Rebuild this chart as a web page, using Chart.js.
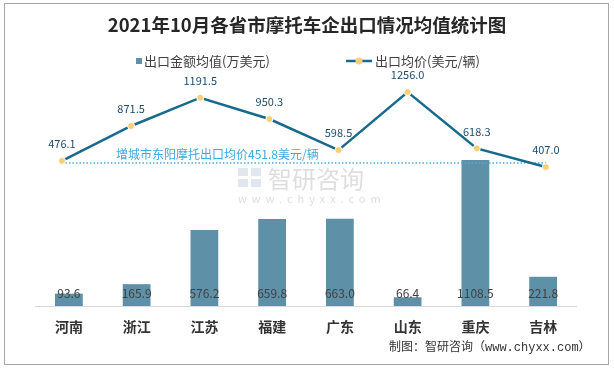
<!DOCTYPE html>
<html>
<head>
<meta charset="utf-8">
<script src="https://cdn.jsdelivr.net/npm/chart.js@4"></script>
<style>
  body { margin: 0; background: #fff; }
  canvas { display: block; }
</style>
</head>
<body>
<canvas id="chart" width="614" height="370"></canvas>
<script>
const categories = ['河南', '浙江', '江苏', '福建', '广东', '山东', '重庆', '吉林'];
const exportAmountAvg = [93.6, 165.9, 576.2, 659.8, 663.0, 66.4, 1108.5, 221.8];
const exportPriceAvg = [476.1, 871.5, 1191.5, 950.3, 598.5, 1256.0, 618.3, 407.0];
const benchmarkPrice = 451.8;
const benchmarkText = '增城市东阳摩托出口均价451.8美元/辆';

const barColor = '#5e91a8';
const lineColor = '#176a8c';
const dotColor = '#f7cf77';
const cjk = '"Noto Sans CJK SC", "Noto Sans", sans-serif';

// line points sit on their own x range (as in the original workbook)
const priceXY = exportPriceAvg.map((v, i) => ({ x: i, y: v }));
const benchXY = categories.map((c, i) => ({ x: i, y: benchmarkPrice }));

const decor = {
    id: 'decor',
    beforeDatasetsDraw(chart) {
        const c = chart.ctx;
        c.save();
        // watermark
        c.fillStyle = 'rgba(200,210,225,0.55)';
        c.fillRect(238, 168, 10, 8);
        c.fillRect(251, 168, 10, 8);
        c.fillRect(238, 179, 10, 8);
        c.fillRect(251, 179, 10, 8);
        c.fillStyle = 'rgba(160,160,160,0.35)';
        c.font = '24px ' + cjk;
        c.textBaseline = 'middle';
        c.textAlign = 'left';
        c.fillText('智研咨询', 268, 179);
        c.font = '11px ' + cjk;
        c.letterSpacing = '5px';
        c.fillText('www.chyxx.com', 238, 199);
        c.restore();
    },
    afterDraw(chart) {
        const c = chart.ctx;
        const area = chart.chartArea;
        c.save();

        // frame
        c.strokeStyle = '#a6a6a6';
        c.lineWidth = 1;
        c.strokeRect(4.5, 3.5, 604, 361);

        // title
        c.fillStyle = '#262626';
        c.font = 'bold 18.5px ' + cjk;
        c.textAlign = 'center';
        c.textBaseline = 'middle';
        c.fillText('2021年10月各省市摩托车企出口情况均值统计图', 307, 25);

        // legend
        c.font = '13px ' + cjk;
        c.textAlign = 'left';
        c.fillStyle = barColor;
        c.fillRect(136, 58, 6, 6);
        c.fillStyle = '#404040';
        c.fillText('出口金额均值(万美元)', 144, 61);
        c.strokeStyle = lineColor;
        c.lineWidth = 2.5;
        c.beginPath();
        c.moveTo(346, 61);
        c.lineTo(372, 61);
        c.stroke();
        c.fillStyle = dotColor;
        c.beginPath();
        c.arc(359, 61, 3.5, 0, Math.PI * 2);
        c.fill();
        c.fillStyle = '#404040';
        c.fillText('出口均价(美元/辆)', 375, 61);

        // axis line
        c.strokeStyle = '#d9d9d9';
        c.lineWidth = 1;
        c.beginPath();
        c.moveTo(area.left, area.bottom + 0.5);
        c.lineTo(area.right, area.bottom + 0.5);
        c.stroke();

        // category labels + bar values
        const xs = chart.scales.x;
        const bars = chart.getDatasetMeta(0).data;
        c.textAlign = 'center';
        categories.forEach((name, i) => {
            c.fillStyle = '#333';
            c.font = 'bold 14px ' + cjk;
            c.fillText(name, xs.getPixelForValue(i), area.bottom + 21);
            c.font = '12px ' + cjk;
            c.fillStyle = '#404040';
            c.fillText(exportAmountAvg[i].toFixed(1), bars[i].x, area.bottom - 13);
        });

        // price labels
        const pts = chart.getDatasetMeta(1).data;
        c.font = '11px ' + cjk;
        c.fillStyle = '#1f4a6e';
        pts.forEach((p, i) => {
            c.fillText(exportPriceAvg[i].toFixed(1), p.x, p.y - 17);
        });

        // benchmark note
        c.fillStyle = '#3fa9dc';
        c.font = '12px ' + cjk;
        c.textAlign = 'left';
        const by = chart.scales.yLine.getPixelForValue(benchmarkPrice);
        c.fillText(benchmarkText, 116, by - 9);

        // source
        c.fillStyle = '#333';
        c.font = '12px "Liberation Mono", ' + cjk;
        c.fillText('制图：智研咨询（www.chyxx.com）', 389, 348);
        c.restore();
    }
};

new Chart(document.getElementById('chart'), {
    type: 'bar',
    data: {
        labels: categories,
        datasets: [{
            label: '出口金额均值(万美元)',
            data: exportAmountAvg,
            backgroundColor: barColor,
            barPercentage: 0.41,
            categoryPercentage: 1,
            grouped: false,
            order: 3
        }, {
            type: 'line',
            label: '出口均价(美元/辆)',
            data: priceXY,
            xAxisID: 'xLine',
            yAxisID: 'yLine',
            borderColor: lineColor,
            borderWidth: 2.5,
            pointRadius: 3.5,
            pointBackgroundColor: dotColor,
            pointBorderColor: '#fff',
            pointBorderWidth: 1,
            tension: 0,
            order: 1
        }, {
            type: 'line',
            label: 'benchmark',
            data: benchXY,
            xAxisID: 'xLine',
            yAxisID: 'yLine',
            borderColor: '#46aee0',
            borderWidth: 1.5,
            borderDash: [1.5, 2],
            pointRadius: 0,
            order: 2
        }]
    },
    options: {
        responsive: false,
        animation: false,
        layout: { padding: { left: 35, right: 37, top: 80, bottom: 64 } },
        scales: {
            x: { display: false, offset: true },
            xLine: { type: 'linear', display: false, offset: false, bounds: 'data', min: -0.39, max: 7.45 },
            y: { display: false, min: 0, max: 1716 },
            yLine: { type: 'linear', display: false, min: -1166, max: 1392 }
        },
        plugins: {
            legend: { display: false },
            tooltip: { enabled: false }
        }
    },
    plugins: [decor]
});
</script>
</body>
</html>
